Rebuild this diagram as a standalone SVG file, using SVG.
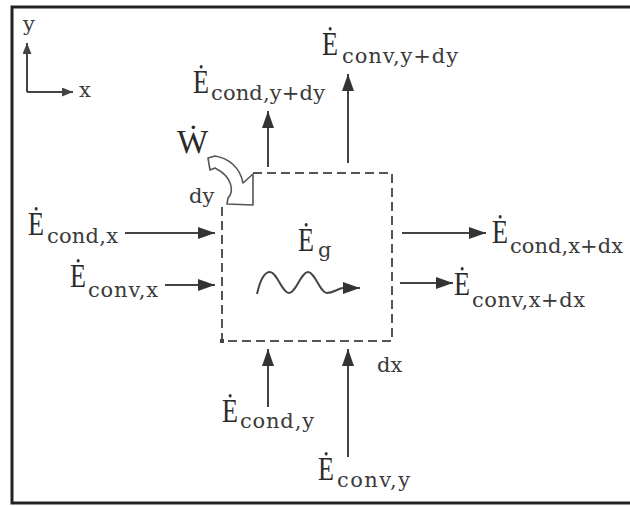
<svg xmlns="http://www.w3.org/2000/svg" width="630" height="506" viewBox="0 0 630 506">
<style>
.E{font-family:"Liberation Serif","DejaVu Serif",serif;font-size:33px;fill:#2a2a2a}
.s{font-family:"DejaVu Serif","Liberation Serif",serif;font-size:21px;fill:#3a3a3a}
.ln{stroke:#444;stroke-width:2;fill:none}
.dash{stroke:#555;stroke-width:2;fill:none;stroke-dasharray:9 5}
</style>
<defs>
<marker id="ah" markerWidth="17" markerHeight="12" refX="17" refY="6" orient="auto" markerUnits="userSpaceOnUse"><path d="M0,0 L17,6 L0,12 Z" fill="#333"/></marker>
<marker id="ahs" markerWidth="11" markerHeight="9" refX="11" refY="4.5" orient="auto" markerUnits="userSpaceOnUse"><path d="M0,0 L11,4.5 L0,9 Z" fill="#444"/></marker>
</defs>
<rect x="0" y="0" width="630" height="506" fill="#fff"/>
<rect x="12" y="7" width="640" height="496" fill="none" stroke="#222" stroke-width="3"/>

<g id="axes">
<line class="ln" x1="27" y1="92" x2="27" y2="43" marker-end="url(#ahs)"/>
<line class="ln" x1="27" y1="92" x2="73" y2="92" marker-end="url(#ahs)"/>
<text class="s" x="23" y="31" font-size="24">y</text>
<text class="s" x="79" y="97" font-size="24">x</text>
</g>

<g id="control-volume">
<path class="dash" d="M253,173 H392 V341 H222 V207"/>
<rect x="220" y="339" width="4" height="4" fill="#444"/>
<text class="s" x="189" y="203" font-size="23">dy</text>
<text class="s" x="377" y="372" font-size="23">dx</text>
</g>

<g id="work">
<path d="M208,158 L215,156 C228,158 240,167 243,183 L253,174 L253,205 L227,204 L228,198 C234,192 233,177 215,168 L210,170 Z" fill="#fff" stroke="#555" stroke-width="1.6" stroke-linejoin="round"/>
<text class="E" x="177" y="153" font-size="32">Ẇ</text>
</g>

<g id="generation">
<text class="E" x="298" y="251" textLength="16" lengthAdjust="spacingAndGlyphs">Ė</text>
<text class="s" x="318" y="257">g</text>
<path class="ln" stroke-width="1.6" d="M257,294 C259,285 263,272 270,272 C277,272 282,293 289,293 C296,293 301,272 308,272 C315,272 320,293 327,293 C333,293 337,289 343,288 L360,288" marker-end="url(#ah)"/>
</g>

<g id="connectors">
<line class="ln" x1="268" y1="167" x2="268" y2="111" marker-end="url(#ah)"/>
<line class="ln" x1="348" y1="163" x2="348" y2="74" marker-end="url(#ah)"/>
<line class="ln" x1="125" y1="233" x2="215" y2="233" marker-end="url(#ah)"/>
<line class="ln" x1="165" y1="285" x2="215" y2="285" marker-end="url(#ah)"/>
<line class="ln" x1="402" y1="233" x2="486" y2="233" marker-end="url(#ah)"/>
<line class="ln" x1="400" y1="283" x2="453" y2="283" marker-end="url(#ah)"/>
<line class="ln" x1="268" y1="407" x2="268" y2="349" marker-end="url(#ah)"/>
<line class="ln" x1="348" y1="457" x2="348" y2="349" marker-end="url(#ah)"/>
</g>

<g id="conv-y-dy">
<text class="E" x="322" y="55" textLength="16" lengthAdjust="spacingAndGlyphs">Ė</text>
<text class="s" x="342" y="63" textLength="116">conv,y+dy</text>
</g>
<g id="cond-y-dy">
<text class="E" x="193" y="93" textLength="16" lengthAdjust="spacingAndGlyphs">Ė</text>
<text class="s" x="211" y="100" textLength="114">cond,y+dy</text>
</g>
<g id="cond-x">
<text class="E" x="28" y="235" textLength="16" lengthAdjust="spacingAndGlyphs">Ė</text>
<text class="s" x="47" y="243" textLength="71">cond,x</text>
</g>
<g id="conv-x">
<text class="E" x="70" y="287" textLength="16" lengthAdjust="spacingAndGlyphs">Ė</text>
<text class="s" x="88" y="297" textLength="70">conv,x</text>
</g>
<g id="cond-x-dx">
<text class="E" x="492" y="243" textLength="16" lengthAdjust="spacingAndGlyphs">Ė</text>
<text class="s" x="510" y="253" textLength="113">cond,x+dx</text>
</g>
<g id="conv-x-dx">
<text class="E" x="454" y="295" textLength="16" lengthAdjust="spacingAndGlyphs">Ė</text>
<text class="s" x="472" y="307" textLength="113">conv,x+dx</text>
</g>
<g id="cond-y">
<text class="E" x="222" y="422" textLength="16" lengthAdjust="spacingAndGlyphs">Ė</text>
<text class="s" x="240" y="428" textLength="74">cond,y</text>
</g>
<g id="conv-y">
<text class="E" x="318" y="480" textLength="16" lengthAdjust="spacingAndGlyphs">Ė</text>
<text class="s" x="337" y="487" textLength="73">conv,y</text>
</g>
</svg>
